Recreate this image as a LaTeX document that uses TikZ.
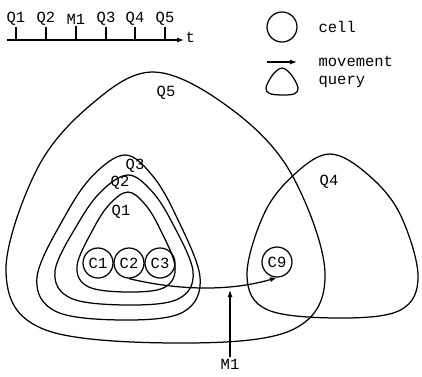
\documentclass[tikz,border=0pt]{standalone}
\usepackage{fontspec}
\setmonofont{Liberation Mono}
\usetikzlibrary{arrows.meta}
\tikzset{pics/query/.style args={#1/#2}{code={
  \draw plot[smooth cycle,tension=0.6] coordinates {(#1,0) ({#1+#2*0.42*(1-#1)},0.12) ({#1+#2*0.79*(1-#1)},0.36)
    (1,0.74) (0.9,0.95) (0.55,1) (0.12,0.95) (0,0.74) ({#1*(1-#2*0.79)},0.36) ({#1*(1-#2*0.42)},0.12)};
}}}

\begin{document}
\begin{tikzpicture}[x=1pt,y=-1pt,>={Latex[length=7pt,width=5pt]},line width=1.25pt,
  font=\ttfamily\fontsize{15.5}{15.5}\selectfont,
  cell/.style={circle,draw,minimum size=30pt,inner sep=0pt},
  txt/.style={inner sep=1pt}]
%\draw[help lines] (0,0) grid[step=20] (422,376);
\useasboundingbox (0,0) rectangle (422,376);
% time line
\coordinate (t0) at (7,40);
\coordinate (t1) at (184,40);
\draw[->] (t0) -- (t1) node[right,txt,yshift=3pt] (tt) {t};
\node[txt] (tq1) at (16,19) {Q1};
\node[txt] (tq2) at (46,19) {Q2};
\node[txt] (tm1) at (76,19) {M1};
\node[txt] (tq3) at (106,19) {Q3};
\node[txt] (tq4) at (135,19) {Q4};
\node[txt] (tq5) at (165,19) {Q5};
\foreach \n in {tq1,tq2,tm1,tq3,tq4,tq5}
  \draw (\n.south) -- (\n.south |- t0);
% legend
\node[cell] (lcell) at (282,27) {};
\node[txt,anchor=west] (lcelltxt) at (317,27) {cell};
\coordinate (lm0) at (267,62);
\coordinate (lm1) at (297,62);
\draw[->] (lm0) -- (lm1);
\node[txt,anchor=west] (lmovetxt) at (317,61) {movement};
\pic[xscale=32,yscale=27] at (266,68) {query=0.5/0.9};
\node[txt,anchor=west] (lquerytxt) at (317,82) {query};
% queries
\pic[xscale=319,yscale=271] at (6,72) {query=0.46/1};
\pic[xscale=163,yscale=165] at (37,155) {query=0.54/0.85};
\pic[xscale=138,yscale=130] at (55,175) {query=0.53/0.85};
\pic[xscale=98,yscale=100] at (77,192) {query=0.52/0.85};
\pic[xscale=171,yscale=164] at (247,154) {query=0.485/1};
\node[txt] (q5) at (166,93) {Q5};
\node[txt] (q3) at (135,166) {Q3};
\node[txt] (q2) at (120,183) {Q2};
\node[txt] (q1) at (121,212) {Q1};
\node[txt] (q4) at (329,182) {Q4};
% cells
\node[cell] (c1) at (98,263) {C1};
\node[cell] (c2) at (129,263) {C2};
\node[cell] (c3) at (160,263) {C3};
\node[cell] (c9) at (277,262) {C9};
\draw[->] (c2.south) .. controls (185,292) and (235,290) .. (c9.south);
% M1
\node[txt] (m1) at (230,364) {M1};
\coordinate (m1tip) at (230,290);
\draw[->] (m1.north) -- (m1tip);
\end{tikzpicture}
\end{document}
